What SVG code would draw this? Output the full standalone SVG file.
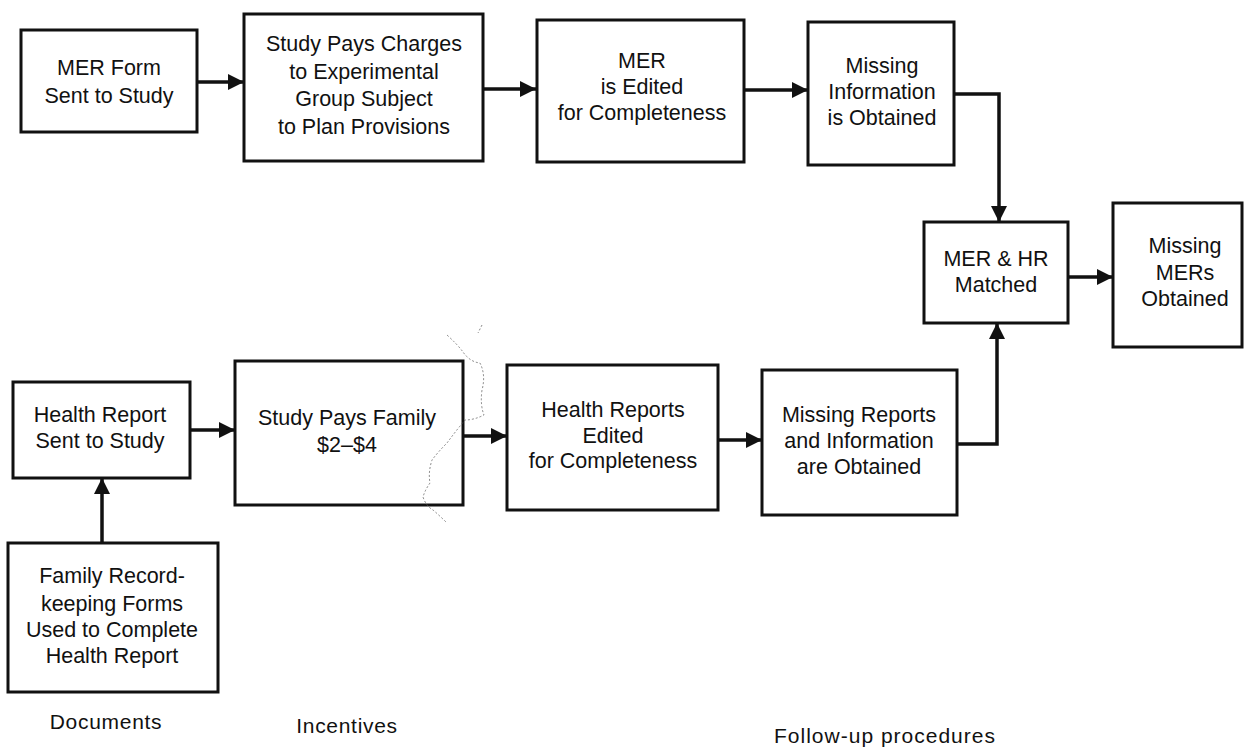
<svg xmlns="http://www.w3.org/2000/svg" width="1244" height="749" viewBox="0 0 1244 749">
  <style>
    .box { fill: #ffffff; stroke: #111111; stroke-width: 3; }
    .lbl { font-family: "Liberation Sans", Arial, Helvetica, sans-serif; font-size: 21.5px; fill: #111111; text-anchor: middle; }
    .cap { font-family: "Liberation Sans", Arial, Helvetica, sans-serif; font-size: 21px; fill: #111111; text-anchor: middle; letter-spacing: 0.7px; }
    .wire { fill: none; stroke: #111111; stroke-width: 3.5; }
    .arrow { marker-end: url(#head); }
  </style>
  <defs>
    <marker id="head" markerUnits="userSpaceOnUse" markerWidth="17" markerHeight="16" refX="16" refY="8" orient="auto">
      <path d="M0,0 L16,8 L0,16 z" fill="#111111"/>
    </marker>
  </defs>

  <rect width="1244" height="749" fill="#ffffff"/>

  <!-- connectors -->
  <g id="connectors">
    <path class="wire arrow" d="M197,82 L244,82"/>
    <path class="wire arrow" d="M483,89 L536,89"/>
    <path class="wire arrow" d="M744,90 L808,90"/>
    <path class="wire arrow" d="M954,94 L999,94 L999,222"/>
    <path class="wire arrow" d="M1068,277 L1113,277"/>
    <path class="wire arrow" d="M957,444 L997,444 L997,323"/>
    <path class="wire arrow" d="M190,430 L235,430"/>
    <path class="wire arrow" d="M463,436 L507,436"/>
    <path class="wire arrow" d="M718,440 L762,440"/>
    <path class="wire arrow" d="M102,543 L102,478"/>
  </g>

  <!-- MER track -->
  <g id="mer-form">
    <rect class="box" x="21" y="30" width="176" height="102"/>
    <text class="lbl" x="109" y="75">MER Form</text>
    <text class="lbl" x="109" y="103">Sent to Study</text>
  </g>

  <g id="study-pays-charges">
    <rect class="box" x="244" y="14" width="239" height="147"/>
    <text class="lbl" x="364" y="51">Study Pays Charges</text>
    <text class="lbl" x="364" y="79">to Experimental</text>
    <text class="lbl" x="364" y="106">Group Subject</text>
    <text class="lbl" x="364" y="134">to Plan Provisions</text>
  </g>

  <g id="mer-edited">
    <rect class="box" x="537" y="20" width="207" height="142"/>
    <text class="lbl" x="642" y="68">MER</text>
    <text class="lbl" x="642" y="94">is Edited</text>
    <text class="lbl" x="642" y="120">for Completeness</text>
  </g>

  <g id="missing-information">
    <rect class="box" x="808" y="22" width="146" height="143"/>
    <text class="lbl" x="882" y="73">Missing</text>
    <text class="lbl" x="882" y="99">Information</text>
    <text class="lbl" x="882" y="125">is Obtained</text>
  </g>

  <!-- merge and final step -->
  <g id="mer-hr-matched">
    <rect class="box" x="924" y="222" width="144" height="101"/>
    <text class="lbl" x="996" y="266">MER &amp; HR</text>
    <text class="lbl" x="996" y="292">Matched</text>
  </g>

  <g id="missing-mers">
    <rect class="box" x="1113" y="203" width="129" height="144"/>
    <text class="lbl" x="1185" y="253">Missing</text>
    <text class="lbl" x="1185" y="280">MERs</text>
    <text class="lbl" x="1185" y="306">Obtained</text>
  </g>

  <!-- health report track -->
  <g id="health-report">
    <rect class="box" x="13" y="382" width="177" height="96"/>
    <text class="lbl" x="100" y="422">Health Report</text>
    <text class="lbl" x="100" y="448">Sent to Study</text>
  </g>

  <g id="study-pays-family">
    <rect class="box" x="235" y="361" width="228" height="144"/>
    <text class="lbl" x="347" y="425">Study Pays Family</text>
    <text class="lbl" x="347" y="452">$2–$4</text>
  </g>

  <g id="health-reports-edited">
    <rect class="box" x="507" y="365" width="211" height="145"/>
    <text class="lbl" x="613" y="417">Health Reports</text>
    <text class="lbl" x="613" y="443">Edited</text>
    <text class="lbl" x="613" y="468">for Completeness</text>
  </g>

  <g id="missing-reports">
    <rect class="box" x="762" y="370" width="195" height="145"/>
    <text class="lbl" x="859" y="422">Missing Reports</text>
    <text class="lbl" x="859" y="448">and Information</text>
    <text class="lbl" x="859" y="474">are Obtained</text>
  </g>

  <g id="family-forms">
    <rect class="box" x="8" y="543" width="210" height="149"/>
    <text class="lbl" x="112" y="583">Family Record-</text>
    <text class="lbl" x="112" y="611">keeping Forms</text>
    <text class="lbl" x="112" y="637">Used to Complete</text>
    <text class="lbl" x="112" y="663">Health Report</text>
  </g>

  <!-- column captions -->
  <g id="captions">
    <text class="cap" x="106" y="729">Documents</text>
    <text class="cap" x="347" y="733">Incentives</text>
    <text class="cap" x="885" y="743" style="letter-spacing:1px">Follow-up procedures</text>
  </g>

  <!-- stray fibre on the paper -->
  <path d="M482,325 L478,333 M447,335 Q458,345 463,352 Q470,362 480,363 Q486,375 482,390 Q480,405 484,415 Q474,420 465,420 Q455,432 447,443 Q438,452 432,460 Q428,472 430,483 Q425,490 423,497 Q426,506 433,510 Q440,516 447,523"
        fill="none" stroke="#555555" stroke-width="1" stroke-dasharray="2 2" opacity="0.7"/>
</svg>
